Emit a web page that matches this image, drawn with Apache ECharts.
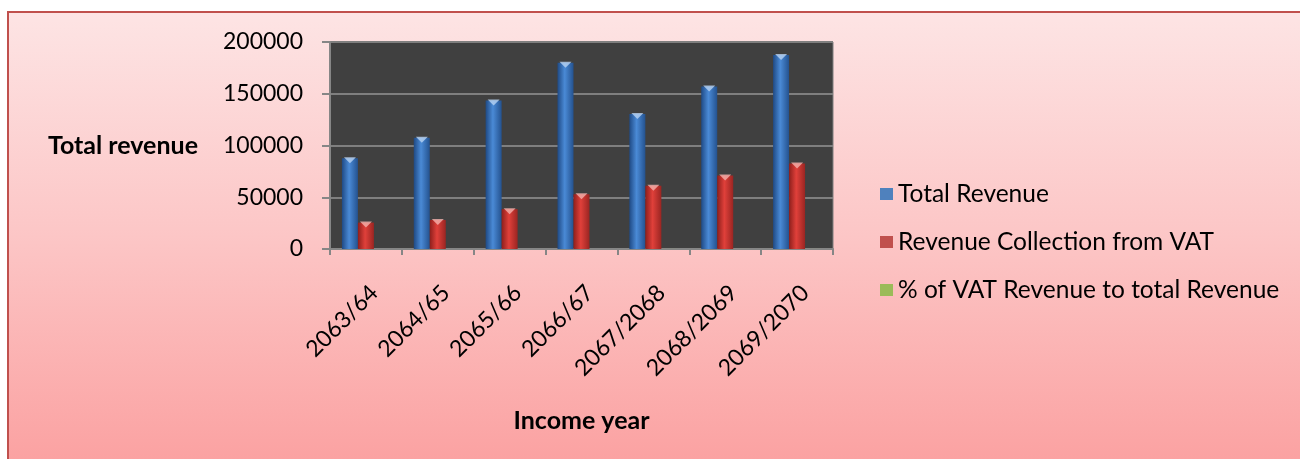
<!DOCTYPE html>
<html>
<head>
<meta charset="utf-8">
<script src="https://cdn.jsdelivr.net/npm/echarts@6/dist/echarts.min.js"></script>
<style>
  html, body { margin: 0; padding: 0; background: #ffffff; }
  #frame {
    position: absolute; left: 7px; top: 11px; width: 1293px; height: 446px;
    border-top: 2px solid #c0504d; border-left: 2px solid #c0504d;
    background: linear-gradient(to bottom, #fde4e4 0%, #fcc6c6 50%, #fba2a2 100%);
  }
  #chart { position: absolute; left: -9px; top: -13px; width: 1300px; height: 462px; }
</style>
</head>
<body>
<div id="frame"><div id="chart"></div></div>
<script>
// Income years and revenue figures (Rs. million)
const years = ['2063/64', '2064/65', '2065/66', '2066/67', '2067/2068', '2068/2069', '2069/2070'];
const totalRevenue = [87700, 107600, 143500, 180000, 130500, 157000, 187500];
const vatRevenue = [25500, 28000, 38500, 53000, 61000, 71000, 82500];
const vatShare = [29, 26, 27, 29, 47, 45, 44];
const yTicks = { min: 0, max: 200000, step: 50000 };

const FONT = 'Lato';
const TEXT = '#000000';

function cylinder(dark, mid, light) {
  return new echarts.graphic.LinearGradient(0, 0, 1, 0, [
    { offset: 0, color: dark },
    { offset: 0.45, color: light },
    { offset: 1, color: mid }
  ]);
}

const chart = echarts.init(document.getElementById('chart'), null, { renderer: 'canvas' });

chart.setOption({
  backgroundColor: 'transparent',
  animation: false,
  textStyle: { fontFamily: FONT },
  grid: {
    left: 330, top: 42, width: 503, height: 207,
    show: true, backgroundColor: '#404040', borderColor: '#7f7f7f', borderWidth: 1
  },
  legend: {
    orient: 'vertical',
    left: 875, top: 174,
    itemWidth: 13, itemHeight: 12, itemGap: 18,
    icon: 'rect',
    textStyle: { fontFamily: FONT, fontSize: 24.5, color: TEXT, lineHeight: 30 },
    data: [
      { name: 'Total Revenue', itemStyle: { color: '#4f81bd' } },
      { name: 'Revenue Collection from VAT', itemStyle: { color: '#c0504d' } },
      { name: '% of VAT Revenue to total Revenue', itemStyle: { color: '#9bbb59' } }
    ]
  },
  xAxis: {
    type: 'category',
    data: years,
    name: 'Income year',
    nameLocation: 'middle',
    nameGap: 159,
    nameTextStyle: { fontFamily: FONT, fontSize: 25, fontWeight: 'bold', color: TEXT },
    axisLine: { lineStyle: { color: '#868686', width: 2 } },
    axisTick: { show: true, length: 6, lineStyle: { color: '#868686', width: 2 } },
    axisLabel: {
      rotate: 45, margin: 32, verticalAlign: 'top', interval: 0,
      fontFamily: FONT, fontSize: 23, color: TEXT
    },
    splitLine: { show: false }
  },
  yAxis: {
    type: 'value',
    min: yTicks.min, max: yTicks.max, interval: yTicks.step,
    name: 'Total revenue',
    nameLocation: 'middle',
    nameRotate: 0,
    nameGap: 132,
    nameTextStyle: { fontFamily: FONT, fontSize: 25, fontWeight: 'bold', color: TEXT, align: 'right' },
    axisLine: { show: true, lineStyle: { color: '#868686', width: 2 } },
    axisTick: { show: true, length: 8, lineStyle: { color: '#868686', width: 2 } },
    axisLabel: {
      margin: 27, fontFamily: FONT, fontSize: 23, color: TEXT,
      formatter: function (v) { return String(v); }
    },
    splitLine: { lineStyle: { color: '#7f7f7f', width: 2 } }
  },
  series: [
    {
      name: 'Total Revenue', type: 'bar', data: totalRevenue,
      barWidth: 16, barGap: '0%',
      itemStyle: { color: cylinder('#1f4a85', '#24528f', '#4a8ad6') }
    },
    {
      name: 'Revenue Collection from VAT', type: 'bar', data: vatRevenue,
      barWidth: 16, barGap: '0%',
      itemStyle: { color: cylinder('#8e1f1c', '#9a2522', '#e0403a') }
    },
    {
      name: '% of VAT Revenue to total Revenue', type: 'bar', data: vatShare,
      barWidth: 16, barGap: '0%',
      itemStyle: { color: '#9bbb59' }
    },
    // light caps at the top of each cylinder
    {
      name: 'capTotal', type: 'scatter', data: totalRevenue, silent: true,
      symbol: 'triangle', symbolRotate: 180, symbolSize: [12, 6], symbolOffset: [-16, 2],
      itemStyle: { color: '#b9d3f2' }, z: 5
    },
    {
      name: 'capVat', type: 'scatter', data: vatRevenue, silent: true,
      symbol: 'triangle', symbolRotate: 180, symbolSize: [12, 6], symbolOffset: [0, 2],
      itemStyle: { color: '#f4b1ad' }, z: 5
    }
  ]
});
</script>
</body>
</html>
